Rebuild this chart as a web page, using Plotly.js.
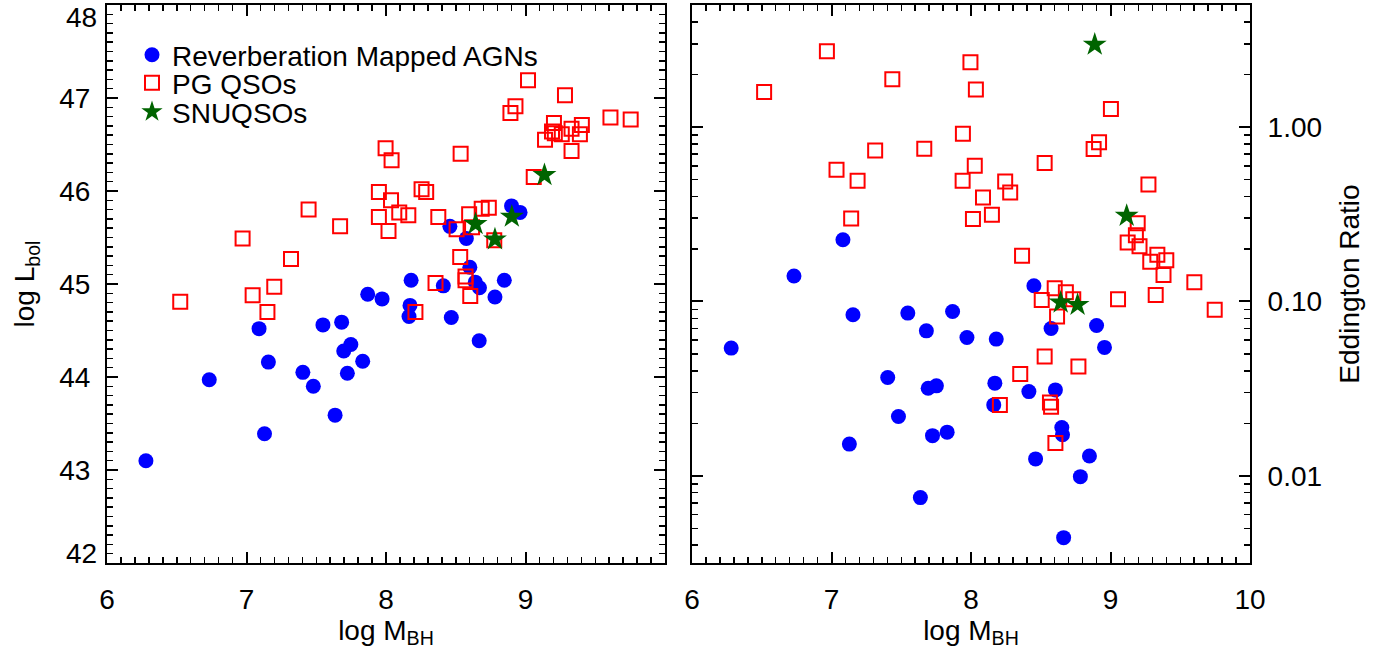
<!DOCTYPE html>
<html>
<head>
<meta charset="utf-8">
<script src="https://cdn.plot.ly/plotly-3.0.1.min.js"></script>
<style>html,body{margin:0;padding:0;background:#fff;}#chart{width:1391px;height:659px;}</style>
</head>
<body>
<div id="chart"></div>
<script>
// ---------- data: left panel (log L_bol vs log M_BH) ----------
const rmMass = [8.90, 8.961, 8.458, 8.576, 8.601, 8.64, 8.67, 8.848, 8.781, 8.411, 8.18, 8.172, 8.165, 8.468, 8.668, 7.869, 7.972, 7.682, 7.548, 7.09, 7.748, 7.697, 7.833, 7.157, 7.404, 7.723, 6.733, 6.279, 7.129, 7.479, 7.635];
const rmLbol = [45.84, 45.77, 45.62, 45.49, 45.18, 45.02, 44.96, 45.04, 44.86, 44.98, 45.04, 44.77, 44.65, 44.64, 44.39, 44.89, 44.84, 44.59, 44.56, 44.52, 44.35, 44.28, 44.17, 44.16, 44.05, 44.04, 43.97, 43.10, 43.39, 43.90, 43.59];

const pgMass = [6.525, 7.319, 6.972, 7.044, 7.199, 7.15, 7.445, 7.671, 7.949, 8.036, 7.949, 8.018, 8.095, 8.16, 8.255, 8.288, 8.375, 8.596, 8.506, 8.617, 8.686, 8.737, 8.776, 8.532, 8.57, 8.57, 8.604, 8.355, 8.211, 7.997, 8.04, 8.535, 9.059, 9.018, 9.283, 8.928, 8.892, 9.609, 9.754, 9.204, 9.404, 9.33, 9.19, 9.26, 9.39, 9.14, 9.33, 9.21];
const pgLbol = [44.81, 45.27, 45.49, 44.88, 44.97, 44.70, 45.80, 45.62, 45.99, 45.90, 45.72, 45.57, 45.77, 45.74, 46.02, 45.99, 45.72, 45.75, 45.59, 45.61, 45.81, 45.82, 45.47, 45.29, 45.08, 45.04, 44.87, 45.01, 44.70, 46.46, 46.33, 46.40, 46.15, 47.19, 47.03, 46.91, 46.84, 46.79, 46.77, 46.73, 46.71, 46.67, 46.64, 46.61, 46.61, 46.55, 46.43, 46.62];

const snMass = [8.642, 8.781, 8.902, 9.136];
const snLbol = [45.645, 45.48, 45.724, 46.172];

// ---------- data: right panel (Eddington ratio vs log M_BH) ----------
const rmMass2 = [7.082, 6.731, 8.451, 6.281, 7.154, 7.547, 7.868, 7.68, 7.971, 8.181, 8.574, 8.9, 8.957, 7.403, 7.693, 7.752, 8.171, 8.415, 8.605, 8.163, 7.48, 8.651, 8.656, 7.128, 7.724, 7.829, 8.463, 8.849, 8.784, 7.637, 8.664];
const rmEdd = [0.226, 0.140, 0.123, 0.054, 0.0838, 0.0857, 0.0876, 0.0678, 0.0621, 0.0608, 0.070, 0.0728, 0.0545, 0.0366, 0.0318, 0.0328, 0.034, 0.0304, 0.0311, 0.0255, 0.0219, 0.0189, 0.0172, 0.0152, 0.017, 0.0178, 0.0125, 0.013, 0.00989, 0.0075, 0.00442];

const pgMass2 = [6.517, 6.967, 7.436, 7.996, 8.035, 9.003, 7.942, 7.313, 7.665, 7.036, 7.187, 8.027, 7.94, 8.245, 8.281, 8.086, 8.15, 8.014, 7.141, 8.528, 8.918, 8.879, 9.272, 9.195, 9.182, 9.123, 9.208, 8.366, 9.285, 9.336, 9.40, 9.38, 9.601, 9.747, 9.324, 9.054, 8.60, 8.68, 8.733, 8.507, 8.617, 8.528, 8.77, 8.353, 8.207, 8.566, 8.574, 8.605];
const pgEdd = [1.59, 2.72, 1.88, 2.35, 1.64, 1.27, 0.916, 0.735, 0.751, 0.569, 0.492, 0.60, 0.492, 0.488, 0.422, 0.395, 0.314, 0.297, 0.299, 0.622, 0.817, 0.748, 0.469, 0.281, 0.24, 0.218, 0.207, 0.183, 0.169, 0.185, 0.172, 0.142, 0.129, 0.0896, 0.109, 0.103, 0.119, 0.113, 0.103, 0.102, 0.082, 0.0483, 0.0423, 0.0383, 0.0255, 0.0263, 0.0249, 0.0154];

const snMass2 = [8.643, 8.764, 9.116, 8.887];
const snEdd = [0.0986, 0.0957, 0.31, 2.97];

// ---------- labels / ticks ----------
const seriesNames = ['Reverberation Mapped AGNs', 'PG QSOs', 'SNUQSOs'];
const massTicksLeft = [6, 7, 8, 9];
const massTicksRight = [6, 7, 8, 9, 10];
const lbolTicks = [42, 43, 44, 45, 46, 47, 48];
const eddTickVals = [0.01, 0.1, 1];
const eddTickText = ['0.01', '0.10', '1.00'];

// ---------- styles ----------
const FONT = 'Arial, "Liberation Sans", Helvetica, sans-serif';
const FS = 28;
const BLUE = '#0000ff', RED = '#ff0000', GREEN = '#006400';

const circleMarker = {symbol: 'circle', size: 15, color: BLUE, line: {width: 0}};
const squareMarker = {symbol: 'square-open', size: 14, color: RED, line: {width: 2, color: RED}};
const starMarker = {symbol: 'star', size: 18, color: GREEN, line: {width: 0}};

const traces = [
  {x: rmMass, y: rmLbol, name: seriesNames[0], type: 'scatter', mode: 'markers', marker: circleMarker, xaxis: 'x', yaxis: 'y', legend: 'legend'},
  {x: pgMass, y: pgLbol, name: seriesNames[1], type: 'scatter', mode: 'markers', marker: squareMarker, xaxis: 'x', yaxis: 'y', legend: 'legend2'},
  {x: snMass, y: snLbol, name: seriesNames[2], type: 'scatter', mode: 'markers', marker: starMarker, xaxis: 'x', yaxis: 'y', legend: 'legend3'},
  {x: rmMass2, y: rmEdd, name: seriesNames[0], type: 'scatter', mode: 'markers', marker: circleMarker, xaxis: 'x2', yaxis: 'y2', showlegend: false},
  {x: pgMass2, y: pgEdd, name: seriesNames[1], type: 'scatter', mode: 'markers', marker: squareMarker, xaxis: 'x2', yaxis: 'y2', showlegend: false},
  {x: snMass2, y: snEdd, name: seriesNames[2], type: 'scatter', mode: 'markers', marker: starMarker, xaxis: 'x2', yaxis: 'y2', showlegend: false}
];

const W = 1391, H = 659;
const M = {l: 107, r: 141, t: 5, b: 96};
const plotW = W - M.l - M.r, plotH = H - M.t - M.b;
const panelW = 558;
const gap = 27;

function minorLin(a, b, step) { const v = []; for (let t = a; t <= b + 1e-9; t += step) v.push(+t.toFixed(3)); return v; }
const eddMinor = [];
[0.001, 0.01, 0.1, 1].forEach(d => { for (let k = 2; k <= 9; k++) eddMinor.push(+(d * k).toPrecision(3)); });

const commonAxis = {
  showline: true, linecolor: '#000', linewidth: 2, mirror: 'allticks',
  ticks: 'inside', ticklen: 11, tickwidth: 2, tickcolor: '#000',
  showgrid: false, zeroline: false,
  tickfont: {family: FONT, size: FS, color: '#000'}
};

const legendBase = {xanchor: 'left', yanchor: 'middle', bgcolor: 'rgba(0,0,0,0)', borderwidth: 0,
  font: {family: FONT, size: FS, color: '#000'}, itemclick: false, itemdoubleclick: false};
function py(px) { return (H - M.b - px) / plotH; }
const legX = (132 - M.l) / plotW;

const endLabels = [lbolTicks[0], lbolTicks[lbolTicks.length - 1]];
const layout = {
  width: W, height: H, margin: M,
  paper_bgcolor: '#fff', plot_bgcolor: '#fff',
  font: {family: FONT, size: FS, color: '#000'},
  xaxis: Object.assign({}, commonAxis, {
    domain: [0, panelW / plotW], range: [6, 10], anchor: 'y',
    tickmode: 'array', tickvals: massTicksLeft, ticklabelstandoff: 10,
    minor: {ticks: 'inside', tickvals: minorLin(6, 10, 0.1), ticklen: 6, tickwidth: 1.5, tickcolor: '#000'},
    title: {text: 'log M<sub>BH</sub>', font: {family: FONT, size: FS}, standoff: 4}
  }),
  yaxis: Object.assign({}, commonAxis, {
    domain: [0, 1], range: [42, 48], anchor: 'x',
    tickmode: 'array', tickvals: lbolTicks.slice(1, -1), ticklabelstandoff: 9,
    minor: {ticks: 'inside', tickvals: minorLin(42, 48, 0.1), ticklen: 6, tickwidth: 1.5, tickcolor: '#000'},
    title: {text: 'log L<sub>bol</sub>', font: {family: FONT, size: FS}, standoff: 16}
  }),
  xaxis2: Object.assign({}, commonAxis, {
    domain: [(panelW + gap) / plotW, 1], range: [6, 10], anchor: 'y2',
    tickmode: 'array', tickvals: massTicksRight, ticklabelstandoff: 10,
    minor: {ticks: 'inside', tickvals: minorLin(6, 10, 0.1), ticklen: 6, tickwidth: 1.5, tickcolor: '#000'},
    title: {text: 'log M<sub>BH</sub>', font: {family: FONT, size: FS}, standoff: 4}
  }),
  yaxis2: Object.assign({}, commonAxis, {
    type: 'log', domain: [0, 1], range: [-2.5, 0.7], anchor: 'x2', side: 'right',
    tickmode: 'array', tickvals: eddTickVals, ticktext: eddTickText, ticklabelstandoff: 10,
    minor: {ticks: 'inside', tickmode: 'array', tickvals: eddMinor, ticklen: 6, tickwidth: 1.5, tickcolor: '#000'},
    title: {text: 'Eddington Ratio', font: {family: FONT, size: FS}, standoff: 18}
  }),
  legend: Object.assign({}, legendBase, {x: legX, y: py(55)}),
  legend2: Object.assign({}, legendBase, {x: legX, y: py(83)}),
  legend3: Object.assign({}, legendBase, {x: legX, y: py(112)}),
  annotations: [
    {text: String(endLabels[1]), xref: 'paper', yref: 'y', x: 0, y: endLabels[1], xanchor: 'right', yanchor: 'middle', xshift: -8, yshift: -12, showarrow: false, font: {family: FONT, size: FS, color: '#000'}},
    {text: String(endLabels[0]), xref: 'paper', yref: 'y', x: 0, y: endLabels[0], xanchor: 'right', yanchor: 'middle', xshift: -8, yshift: 10, showarrow: false, font: {family: FONT, size: FS, color: '#000'}}
  ],
  showlegend: true
};

Plotly.newPlot('chart', traces, layout, {staticPlot: true, displayModeBar: false});
</script>
</body>
</html>
